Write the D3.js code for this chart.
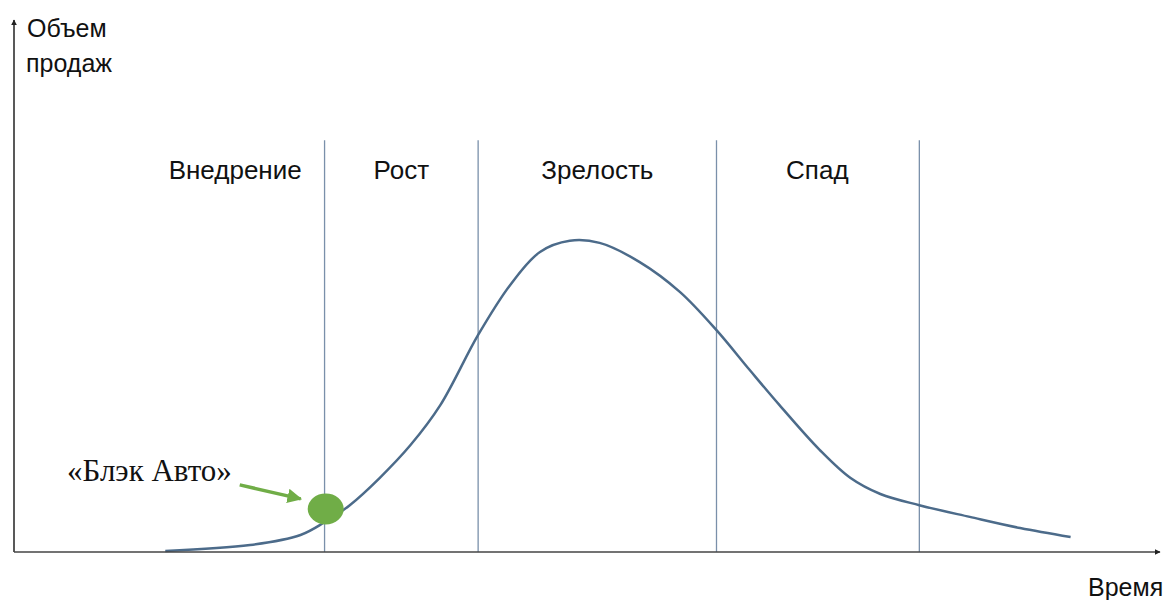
<!DOCTYPE html>
<html>
<head>
<meta charset="utf-8">
<script src="https://cdn.jsdelivr.net/npm/d3@7"></script>
<style>
  body { margin: 0; background: #fff; overflow: hidden; }
</style>
</head>
<body>
<div id="chart"></div>
<script>
// life cycle curve, time (0..100) vs sales (0..100)
var curveTime  = [13.2, 20.6, 25.0, 27.1, 29.3, 31.9, 34.6, 37.2, 40.5, 43.3, 45.9, 48.5, 51.1, 54.6, 58.1, 61.3, 64.2, 66.8, 70.3, 73.0, 75.6, 79.0, 83.4, 87.8, 92.2];
var curveSales = [0.2, 1.3, 3.2, 5.6, 8.8, 13.9, 20.1, 27.6, 40.8, 50.2, 56.4, 58.5, 58.1, 54.5, 48.9, 41.7, 34.2, 27.6, 19.2, 13.9, 10.9, 8.8, 6.6, 4.5, 2.8];

var stageNames  = ["Внедрение", "Рост", "Зрелость", "Спад"];
var stageCenter = [19.3, 33.8, 50.9, 70.1];
var stageBounds = [27.1, 40.5, 61.3, 79.0];

var companyName = "«Блэк Авто»";
var companyPos  = [27.2, 8.1];

var width = 1163, height = 600;
var margin = {top: 20, right: 3, bottom: 48, left: 14};

var x = d3.scaleLinear().domain([0, 100]).range([margin.left, width - margin.right]),
    y = d3.scaleLinear().domain([0, 100]).range([height - margin.bottom, margin.top]);

var sans = "'Liberation Sans', Arial, sans-serif";

var svg = d3.select("#chart").append("svg")
    .attr("width", width)
    .attr("height", height);

var defs = svg.append("defs");
defs.append("marker")
    .attr("id", "axisArrow")
    .attr("viewBox", "0 0 10 10")
    .attr("refX", 9).attr("refY", 5)
    .attr("markerWidth", 4).attr("markerHeight", 4)
    .attr("orient", "auto")
  .append("path")
    .attr("d", "M0,0 L10,5 L0,10 z")
    .style("fill", "#222");
defs.append("marker")
    .attr("id", "greenArrow")
    .attr("viewBox", "0 0 10 10")
    .attr("refX", 9).attr("refY", 5)
    .attr("markerWidth", 4.2).attr("markerHeight", 4.2)
    .attr("orient", "auto")
  .append("path")
    .attr("d", "M0,0 L10,5 L0,10 z")
    .style("fill", "#70ad47");

// stage borders
svg.selectAll(".stage-line")
    .data(stageBounds)
    .enter().append("line")
    .attr("class", "stage-line")
    .attr("x1", function(d) { return x(d); })
    .attr("x2", function(d) { return x(d); })
    .attr("y1", y(77.4))
    .attr("y2", y(0))
    .style("stroke", "#7a90aa")
    .style("stroke-width", 1.3);

svg.selectAll(".stage-label")
    .data(stageNames)
    .enter().append("text")
    .attr("class", "stage-label")
    .attr("x", function(d, i) { return x(stageCenter[i]); })
    .attr("y", y(70.2))
    .attr("text-anchor", "middle")
    .style("font-family", sans)
    .style("font-size", "26px")
    .style("fill", "#111")
    .text(function(d) { return d; });

// the curve
var pts = curveTime.map(function(t, i) { return [t, curveSales[i]]; });
var line = d3.line()
    .x(function(d) { return x(d[0]); })
    .y(function(d) { return y(d[1]); })
    .curve(d3.curveCatmullRom.alpha(0.5));

svg.append("path")
    .datum(pts)
    .attr("d", line)
    .style("fill", "none")
    .style("stroke", "#4c6b8a")
    .style("stroke-width", 2.5);

// axes
svg.append("line")
    .attr("x1", x(0)).attr("x2", x(0))
    .attr("y1", y(0)).attr("y2", y(100))
    .attr("marker-end", "url(#axisArrow)")
    .style("stroke", "#222").style("stroke-width", 1.5);
svg.append("line")
    .attr("x1", x(0)).attr("x2", x(100))
    .attr("y1", y(0)).attr("y2", y(0))
    .attr("marker-end", "url(#axisArrow)")
    .style("stroke", "#444").style("stroke-width", 1.5);

svg.append("text")
    .attr("x", 27).attr("y", 37)
    .style("font-family", sans)
    .style("font-size", "25px").style("fill", "#111")
    .text("Объем");
svg.append("text")
    .attr("x", 26).attr("y", 72)
    .style("font-family", sans)
    .style("font-size", "25px").style("fill", "#111")
    .text("продаж");
svg.append("text")
    .attr("x", 1088).attr("y", 596)
    .style("font-family", sans)
    .style("font-size", "25px").style("fill", "#111")
    .text("Время");

// company marker
svg.append("ellipse")
    .attr("cx", x(companyPos[0]))
    .attr("cy", y(companyPos[1]))
    .attr("rx", 18).attr("ry", 15.5)
    .style("fill", "#70ad47");

svg.append("line")
    .attr("x1", x(companyPos[0]) - 86)
    .attr("y1", y(companyPos[1]) - 24)
    .attr("x2", x(companyPos[0]) - 25)
    .attr("y2", y(companyPos[1]) - 10)
    .attr("marker-end", "url(#greenArrow)")
    .style("stroke", "#70ad47")
    .style("stroke-width", 3.5);

svg.append("text")
    .attr("x", 67).attr("y", 481)
    .style("font-family", "'Liberation Serif', 'Times New Roman', serif")
    .style("font-size", "31px").style("fill", "#111")
    .text(companyName);
</script>
</body>
</html>
